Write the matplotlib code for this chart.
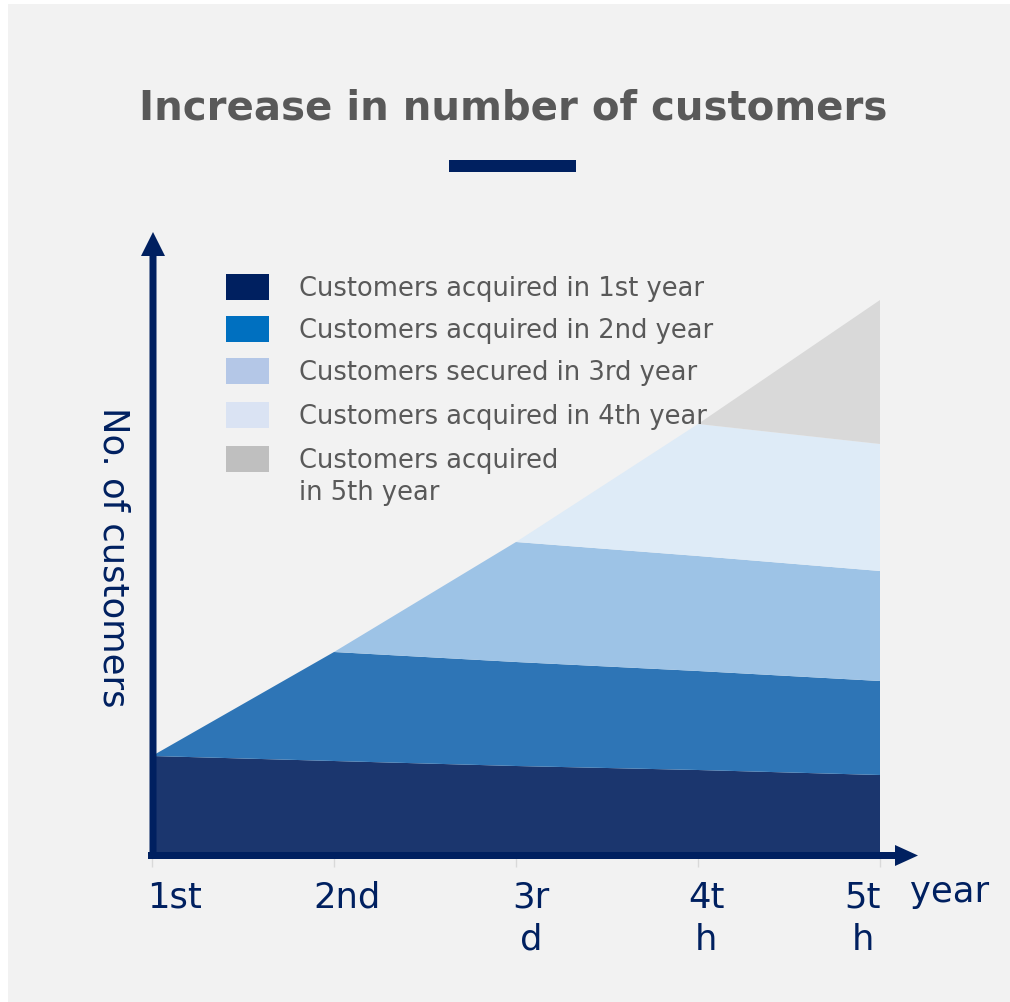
import matplotlib
matplotlib.use('Agg')
import matplotlib.pyplot as plt
from matplotlib.patches import Rectangle, FancyArrow
import matplotlib.transforms as mtransforms
import numpy as np

W, H = 1010, 1003

# ---- data ----
years = ['1st', '2nd', '3rd', '4th', '5th']
tick_labels = ['1st', '2nd', '3r\nd', '4t\nh', '5t\nh']
acq_1st = [100, 95, 90, 86, 81]
acq_2nd = [0, 109, 104, 99, 94]
sec_3rd = [0, 0, 120, 115, 110]
acq_4th = [0, 0, 0, 132, 127]
acq_5th = [0, 0, 0, 0, 144]
series_labels = ['Customers acquired in 1st year',
                 'Customers acquired in 2nd year',
                 'Customers secured in 3rd year',
                 'Customers acquired in 4th year',
                 'Customers acquired\nin 5th year']
title = 'Increase in number of customers'
ylabel = 'No. of customers'
xlabel = 'year'

area_colors = ['#1b366e', '#2e75b6', '#9dc3e6', '#deebf7', '#d9d9d9']
legend_colors = ['#002060', '#0070c0', '#b4c7e7', '#dae3f3', '#bfbfbf']
navy = '#002060'
gray_text = '#595959'

fig = plt.figure(figsize=(W / 100, H / 100), dpi=100, facecolor='white')


def fx(px):
    return px / W


def fy(py):
    return 1 - py / H


# panel background
fig.patches.append(Rectangle((fx(8), 0), 1 - fx(8), fy(5), transform=fig.transFigure,
                             facecolor='#f2f2f2', edgecolor='none', zorder=-10))

ax = fig.add_axes([fx(152), fy(857), fx(880) - fx(152), fy(240) - fy(857)])
ax.set_facecolor('none')
x = np.arange(len(years))
ax.stackplot(x, acq_1st, acq_2nd, sec_3rd, acq_4th, acq_5th,
             colors=area_colors, linewidth=0)
ax.set_xlim(0, 4)
ax.set_ylim(0, 617)
for s in ax.spines.values():
    s.set_visible(False)
ax.set_yticks([])
ax.set_xticks(x)
ax.tick_params(axis='x', length=8, width=1, color='#d9d9d9', labelbottom=False)

pxx = (880 - 152) / 4.0  # pixels per x unit
# axis arrows
ax.add_patch(FancyArrow(1 / pxx, -3, 0, 627, width=7 / pxx, head_width=24 / pxx,
                        head_length=24, length_includes_head=True, color=navy,
                        lw=0, clip_on=False, zorder=5))
ax.add_patch(FancyArrow(-4 / pxx, 0.5, (918 - 148) / pxx, 0, width=7, head_width=21,
                        head_length=23 / pxx, length_includes_head=True, color=navy,
                        lw=0, clip_on=False, zorder=5))

# tick labels
label_dx = [23, 13, 15, 8, -17]
for xi, lab, dx in zip(x, tick_labels, label_dx):
    tr = mtransforms.offset_copy(ax.transData, fig=fig, x=dx, y=-24, units='dots')
    ax.text(xi, 0, lab, transform=tr, ha='center', va='top', size=25.5,
            color=navy, multialignment='center', linespacing=1.28)

fig.text(fx(910), fy(902), xlabel, ha='left', va='baseline', size=25.5, color=navy)
fig.text(fx(113), fy(557), ylabel, rotation=270, ha='center', va='center',
         size=25.5, color=navy)

# title and bar
fig.text(fx(513), fy(120), title, ha='center', va='baseline', size=29,
         weight='bold', color=gray_text)
fig.patches.append(Rectangle((fx(449), fy(173)), fx(576) - fx(449), 12 / H,
                             transform=fig.transFigure, facecolor=navy,
                             edgecolor='none'))

# legend
centers = [288, 330, 372, 416, 460]
for c, col, lab in zip(centers, legend_colors, series_labels):
    fig.patches.append(Rectangle((fx(226), fy(c + 13)), 43 / W, 26 / H,
                                 transform=fig.transFigure, facecolor=col,
                                 edgecolor='none'))
    fig.text(fx(299), fy(c + 7.5 - 19.5), lab, ha='left', va='top', size=18.5,
             color=gray_text, linespacing=1.3)

fig.savefig('out.png', dpi=100, facecolor=fig.get_facecolor())
